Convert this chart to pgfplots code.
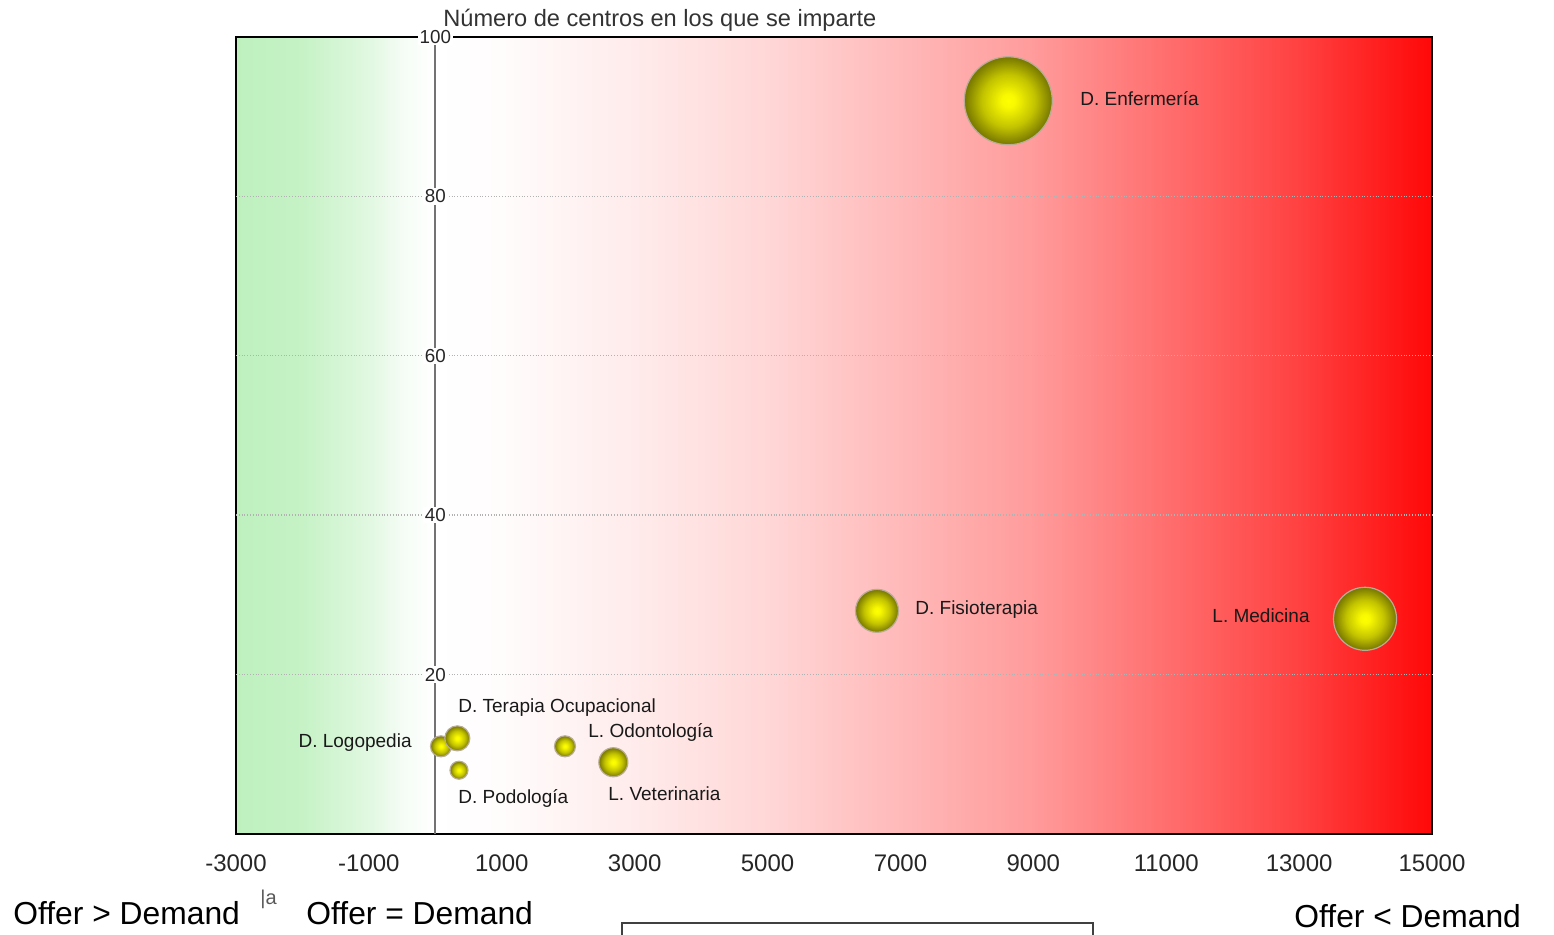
\documentclass[border=0pt]{standalone}
\usepackage{pgfplots}
\pgfplotsset{compat=1.18}
\usepackage{pgfplotstable}
\usepackage{fontspec}
\setmainfont{Liberation Sans}

\definecolor{bg0}{RGB}{190,240,190}
\definecolor{bg1}{RGB}{198,242,198}
\definecolor{bg2}{RGB}{225,248,225}
\definecolor{bg3}{RGB}{245,252,245}
\definecolor{bg4}{RGB}{255,255,255}
\definecolor{bg5}{RGB}{255,252,252}
\definecolor{bg6}{RGB}{255,235,235}
\definecolor{bg7}{RGB}{255,215,215}
\definecolor{bg8}{RGB}{255,185,185}
\definecolor{bg9}{RGB}{255,155,155}
\definecolor{bg10}{RGB}{255,110,110}
\definecolor{bg11}{RGB}{255,65,65}
\definecolor{bg12}{RGB}{255,8,8}
\pgfdeclarehorizontalshading{bgshade}{100bp}{color(0bp)=(bg0); color(25bp)=(bg0); color(27.78bp)=(bg1); color(30.56bp)=(bg2); color(31.94bp)=(bg3); color(33.33bp)=(bg4); color(36.11bp)=(bg5); color(41.67bp)=(bg6); color(47.22bp)=(bg7); color(52.78bp)=(bg8); color(58.33bp)=(bg9); color(63.89bp)=(bg10); color(69.44bp)=(bg11); color(75bp)=(bg12); color(100bp)=(bg12)}

\definecolor{bc0}{RGB}{255,255,0}
\definecolor{bc1}{RGB}{248,248,0}
\definecolor{bc2}{RGB}{195,195,0}
\definecolor{bc3}{RGB}{118,118,0}
\definecolor{bubbleedge}{RGB}{185,172,150}
\pgfdeclareradialshading{bubbleshade}{\pgfpoint{0bp}{0bp}}{color(0bp)=(bc0); color(4bp)=(bc1); color(15bp)=(bc2); color(25bp)=(bc3); color(50bp)=(bc3)}

\pgfdeclareplotmark{mybubble}{%
  \pgfpathcircle{\pgfpointorigin}{\pgfplotmarksize}%
  \pgfshadepath{bubbleshade}{0}%
  \pgfsetstrokecolor{bubbleedge}%
  \pgfsetlinewidth{0.6pt}%
  \pgfpathcircle{\pgfpointorigin}{\pgfplotmarksize}%
  \pgfusepathqstroke
}

\pgfplotstableread{
x y r
8623 92 22
13992 27 15.75
6647 28 10.75
85 11 5.25
331 12 6.25
356 8 4.5
1951 11 5.25
2679 9 7.25
}\bubbles

\begin{document}
\begin{tikzpicture}
\path[use as bounding box] (0,0) rectangle (777pt,467.5pt);
\begin{axis}[
  at={(118pt,50.5pt)}, anchor=south west,
  scale only axis, width=598pt, height=398.5pt,
  xmin=-3000, xmax=15000, ymin=0, ymax=100,
  axis x line*=bottom, axis y line*=middle,
  xtick={-3000,-1000,...,15000},
  scaled x ticks=false,
  ytick={20,40,60,80},
  extra y ticks={100},
  extra y tick style={grid=none},
  ymajorgrids,
  grid style={densely dotted, color=black!30, line width=0.7pt},
  major tick length=0pt,
  axis background/.style={shade, shading=bgshade, draw=black, line width=0.6pt},
  x axis line style={black, line width=0.6pt},
  y axis line style={draw=black!55, line width=1.1pt},
  /pgf/number format/assume math mode=true,
  /pgf/number format/set thousands separator={},
  xticklabel style={font=\fontsize{12}{14}\selectfont, yshift=-7pt, text=black!85},
  yticklabel style={font=\fontsize{9.4}{11}\selectfont, anchor=center, fill=white, inner sep=0.8pt, text=black!85},
  clip=false,
]
\addplot[scatter, only marks, mark=mybubble,
  visualization depends on={\thisrow{r}\as\rad},
  scatter/@pre marker code/.append style={/tikz/mark size=\rad}]
  table[x=x,y=y] {\bubbles};
\begin{scope}[every node/.style={inner sep=0pt, font=\fontsize{9.5}{11}\selectfont, text=black!90}]
\node[anchor=west] at (axis cs:9702,92.3) {D. Enfermería};
\node[anchor=west] at (axis cs:7219,28.2) {D. Fisioterapia};
\node[anchor=east] at (axis cs:13164,27.4) {L. Medicina};
\node[anchor=west] at (axis cs:341,15.9) {D. Terapia Ocupacional};
\node[anchor=west] at (axis cs:2298,12.7) {L. Odontología};
\node[anchor=east] at (axis cs:-351,11.5) {D. Logopedia};
\node[anchor=west] at (axis cs:341,4.4) {D. Podología};
\node[anchor=west] at (axis cs:2599,5.0) {L. Veterinaria};
\end{scope}
\end{axis}
\node[anchor=base west, inner sep=0pt, font=\fontsize{11.8}{14}\selectfont, text=black!80] at (221.5pt,454pt) {Número de centros en los que se imparte};
\node[anchor=base west, inner sep=0pt, font=\fontsize{15.9}{18}\selectfont] at (6.5pt,5pt) {Offer > Demand};
\node[anchor=base west, inner sep=0pt, font=\fontsize{15.9}{18}\selectfont] at (153pt,5pt) {Offer = Demand};
\node[anchor=base west, inner sep=0pt, font=\fontsize{15.9}{18}\selectfont] at (647pt,3.5pt) {Offer < Demand};
\node[anchor=base west, inner sep=0pt, font=\fontsize{10}{11}\selectfont, text=black!65] at (130pt,15pt) {|a};
\draw[black!75, line width=1pt] (311pt,-10pt) |- (546.5pt,6pt) -- (546.5pt,-10pt);
\end{tikzpicture}
\end{document}
